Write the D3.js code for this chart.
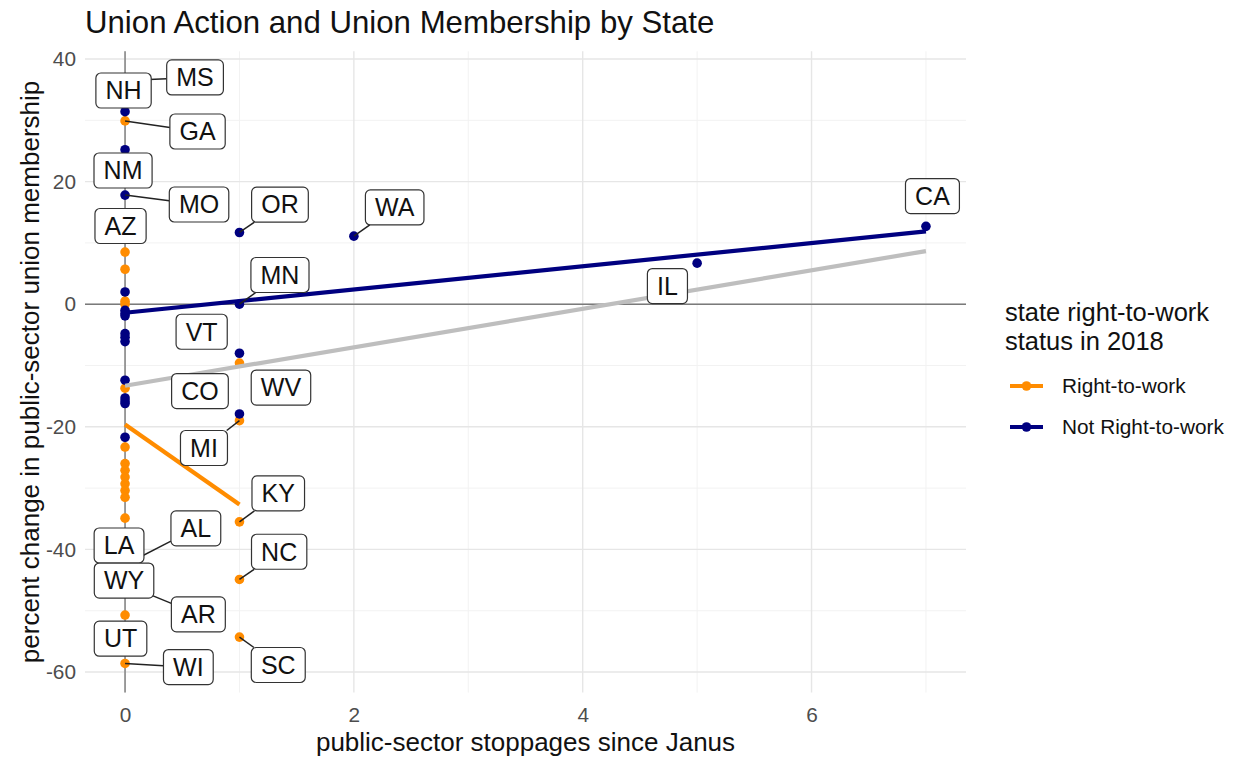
<!DOCTYPE html>
<html>
<head>
<meta charset="utf-8">
<script src="https://cdn.jsdelivr.net/npm/d3@7"></script>
<style>
  body { margin: 0; background: #fff; }
  svg { font-family: "Liberation Sans", Arial, Helvetica, sans-serif; display: block; }
</style>
</head>
<body>
<svg id="chart" width="1236" height="759"></svg>
<script>
// ---- data: one entry per state ----
const states = [
  "MS","GA","AZ","LA","AL","WY","AR","UT","WI",
  "FL","ID","IN","IA","KS","NE","NV","ND","OK","SD","TN","TX","VA",
  "WV","MI","KY","NC","SC",
  "NH","NM","MO",
  "AK","CT","DE","HI","ME","MD","MA","MT","NJ","NY","OH","PA","RI",
  "OR","MN","VT","CO","WA","IL","CA"
];
const stoppages = [
  0,0,0,0,0,0,0,0,0,
  0,0,0,0,0,0,0,0,0,0,0,0,0,
  1,1,1,1,1,
  0,0,0,
  0,0,0,0,0,0,0,0,0,0,0,0,0,
  1,1,1,1,2,5,7
];
const pctChange = [
  36.5,29.9,13.0,-39.0,-42.5,-45.0,-45.7,-50.7,-58.6,
  8.5,5.7,0.5,0.0,-13.7,-23.3,-26.0,-27.1,-28.2,-29.3,-30.4,-31.5,-34.9,
  -9.6,-19.0,-35.5,-44.9,-54.3,
  31.4,25.2,17.8,
  11.5,2.0,-1.0,-1.5,-1.9,-4.8,-5.4,-6.1,-12.4,-15.3,-15.8,-16.2,-21.7,
  11.7,0.0,-8.0,-17.9,11.1,6.7,12.7
];
const rightToWork = [
  1,1,1,1,1,1,1,1,1,
  1,1,1,1,1,1,1,1,1,1,1,1,1,
  1,1,1,1,1,
  0,0,0,
  0,0,0,0,0,0,0,0,0,0,0,0,0,
  0,0,0,0,0,0,0
];
const statusLevels = ["Right-to-work", "Not Right-to-work"];
const labelledStates = ["AL","AR","AZ","CA","CO","GA","IL","KY","LA","MI","MN","MO",
  "MS","NC","NH","NM","OR","SC","UT","VT","WA","WI","WV","WY"];
const xTicks = [0, 2, 4, 6];
const yTicks = [-60, -40, -20, 0, 20, 40];

// ---- label placement (pixel offset of each label box centre from its point) ----
const labelNudge = {
  NH: [-1.5, -21.2], MS: [70, -3], GA: [72.5, 10.6], NM: [-2, 20.8], MO: [74, 9.4],
  AZ: [-4.5, 1.5], OR: [40.5, -27.8], WA: [40.8, -28.7], CA: [6.5, -30.3],
  MN: [40.5, -29.2], IL: [-29.7, 22.9], VT: [-37.8, -21.5], CO: [-39.5, -22.9],
  WV: [41.5, 24.5], MI: [-35.5, 27.3], KY: [38.8, -28.5], NC: [39.7, -27.7],
  SC: [38.8, 27.9], AL: [70.8, -36.4], LA: [-6, 2.2], WY: [-1, 0.5],
  AR: [73.3, 30], UT: [-4.5, 23.7], WI: [63.3, 3.6]
};

const rows = states.map((s, i) => ({
  state: s, x: stoppages[i], y: pctChange[i],
  status: rightToWork[i] ? statusLevels[0] : statusLevels[1]
}));

const colour = d3.scaleOrdinal().domain(statusLevels).range(["#FF8C00", "#000080"]);

// ---- panel and scales ----
const panel = { left: 85, right: 966, top: 51.3, bottom: 692.6 };
const expand = (lo, hi, f) => [lo - (hi - lo) * f, hi + (hi - lo) * f];
const xExt = d3.extent(rows, d => d.x), yExt = d3.extent(rows, d => d.y);
const x = d3.scaleLinear().domain(expand(xExt[0], xExt[1], 0.05)).range([panel.left, panel.right]);
const y = d3.scaleLinear().domain(expand(yExt[0], yExt[1], 0.05)).range([panel.bottom, panel.top]);

const svg = d3.select("#chart");

// gridlines (major + minor)
const grid = svg.append("g");
const xMinor = d3.range(1, 8, 2);
const yMinor = d3.range(-50, 40, 20);
grid.selectAll(".xmin").data(xMinor).join("line")
  .attr("x1", d => x(d)).attr("x2", d => x(d)).attr("y1", panel.top).attr("y2", panel.bottom)
  .attr("stroke", "#f2f2f2").attr("stroke-width", 1);
grid.selectAll(".ymin").data(yMinor).join("line")
  .attr("y1", d => y(d)).attr("y2", d => y(d)).attr("x1", panel.left).attr("x2", panel.right)
  .attr("stroke", "#f2f2f2").attr("stroke-width", 1);
grid.selectAll(".xmaj").data(xTicks).join("line")
  .attr("x1", d => x(d)).attr("x2", d => x(d)).attr("y1", panel.top).attr("y2", panel.bottom)
  .attr("stroke", "#e6e6e6").attr("stroke-width", 1.4);
grid.selectAll(".ymaj").data(yTicks).join("line")
  .attr("y1", d => y(d)).attr("y2", d => y(d)).attr("x1", panel.left).attr("x2", panel.right)
  .attr("stroke", "#e6e6e6").attr("stroke-width", 1.4);

// reference lines at zero
svg.append("line").attr("x1", panel.left).attr("x2", panel.right)
  .attr("y1", y(0)).attr("y2", y(0)).attr("stroke", "#7a7a7a").attr("stroke-width", 1.4);
svg.append("line").attr("x1", x(0)).attr("x2", x(0))
  .attr("y1", panel.top).attr("y2", panel.bottom).attr("stroke", "#7a7a7a").attr("stroke-width", 1.4);

// axes (text only)
const xAxis = svg.append("g").attr("transform", `translate(0,${panel.bottom})`)
  .call(d3.axisBottom(x).tickValues(xTicks).tickSize(0).tickPadding(15));
const yAxis = svg.append("g").attr("transform", `translate(${panel.left},0)`)
  .call(d3.axisLeft(y).tickValues(yTicks).tickSize(0).tickPadding(9)
    .tickFormat(d => d < 0 ? "-" + Math.abs(d) : d));
[xAxis, yAxis].forEach(a => {
  a.select(".domain").remove();
  a.selectAll("text").attr("fill", "#4d4d4d").attr("font-size", "20.8px")
    .attr("font-family", '"Liberation Sans", Arial, sans-serif');
});

// points
svg.append("g").selectAll("circle").data(rows).join("circle")
  .attr("cx", d => x(d.x)).attr("cy", d => y(d.y)).attr("r", 4.8)
  .attr("fill", d => colour(d.status));

// least-squares fits
function fit(pts) {
  const mx = d3.mean(pts, p => p.x), my = d3.mean(pts, p => p.y);
  const sxy = d3.sum(pts, p => (p.x - mx) * (p.y - my));
  const sxx = d3.sum(pts, p => (p.x - mx) ** 2);
  const b = sxy / sxx, a = my - b * mx;
  const [x0, x1] = d3.extent(pts, p => p.x);
  return [[x0, a + b * x0], [x1, a + b * x1]];
}
const line = d3.line().x(p => x(p[0])).y(p => y(p[1]));
const fits = [
  { pts: rows.filter(r => r.status === statusLevels[0]), col: colour(statusLevels[0]) },
  { pts: rows.filter(r => r.status === statusLevels[1]), col: colour(statusLevels[1]) },
  { pts: rows, col: "#bebebe" }
];
svg.append("g").selectAll("path").data(fits).join("path")
  .attr("d", f => line(fit(f.pts))).attr("fill", "none")
  .attr("stroke", f => f.col).attr("stroke-width", 4.2).attr("stroke-linecap", "butt");

// state labels with leader segments
const lab = svg.append("g").attr("font-size", "25px").attr("fill", "#111");
const labelled = rows.filter(r => labelledStates.includes(r.state))
  .sort((a, b) => d3.ascending(a.state, b.state));
labelled.forEach(r => {
  const px = x(r.x), py = y(r.y);
  const [dx, dy] = labelNudge[r.state];
  const cx = px + dx, cy = py + dy;
  const g = lab.append("g");
  const t = g.append("text").attr("x", cx).attr("y", cy).attr("dy", "0.35em")
    .attr("text-anchor", "middle").text(r.state);
  const hw = t.node().getComputedTextLength() / 2 + 9.6, hh = 17.5;
  // distance from point to the box
  const ox = Math.max(0, Math.abs(px - cx) - hw), oy = Math.max(0, Math.abs(py - cy) - hh);
  if (Math.hypot(ox, oy) > 14.5) {
    const vx = px - cx, vy = py - cy;
    const s = Math.min(hw / Math.abs(vx || 1e-9), hh / Math.abs(vy || 1e-9));
    g.insert("line", "text").attr("x1", px).attr("y1", py)
      .attr("x2", cx + vx * s).attr("y2", cy + vy * s)
      .attr("stroke", "#222").attr("stroke-width", 1.5);
  }
  g.insert("rect", "text").attr("x", cx - hw).attr("y", cy - hh)
    .attr("width", hw * 2).attr("height", hh * 2).attr("rx", 5).attr("ry", 5)
    .attr("fill", "#fff").attr("stroke", "#333").attr("stroke-width", 1.2);
});

// titles
svg.append("text").attr("x", panel.left).attr("y", 33).attr("font-size", "31.2px")
  .attr("fill", "#111").text("Union Action and Union Membership by State");
svg.append("text").attr("x", (panel.left + panel.right) / 2).attr("y", 751)
  .attr("text-anchor", "middle").attr("font-size", "26px").attr("fill", "#111")
  .text("public-sector stoppages since Janus");
svg.append("text").attr("transform", `translate(39,${(panel.top + panel.bottom) / 2}) rotate(-90)`)
  .attr("text-anchor", "middle").attr("font-size", "26px").attr("fill", "#111")
  .text("percent change in public-sector union membership");

// legend
const leg = svg.append("g");
["state right-to-work", "status in 2018"].forEach((ln, i) => {
  leg.append("text").attr("x", 1005).attr("y", 321 + i * 29)
    .attr("font-size", "25.5px").attr("fill", "#111").text(ln);
});
statusLevels.forEach((s, i) => {
  const ky = 386 + i * 41;
  leg.append("line").attr("x1", 1010).attr("x2", 1043).attr("y1", ky).attr("y2", ky)
    .attr("stroke", colour(s)).attr("stroke-width", 4.2);
  leg.append("circle").attr("cx", 1026.5).attr("cy", ky).attr("r", 4.8).attr("fill", colour(s));
  leg.append("text").attr("x", 1062).attr("y", ky).attr("dy", "0.35em")
    .attr("font-size", "20.8px").attr("fill", "#111").text(s);
});
</script>
</body>
</html>
